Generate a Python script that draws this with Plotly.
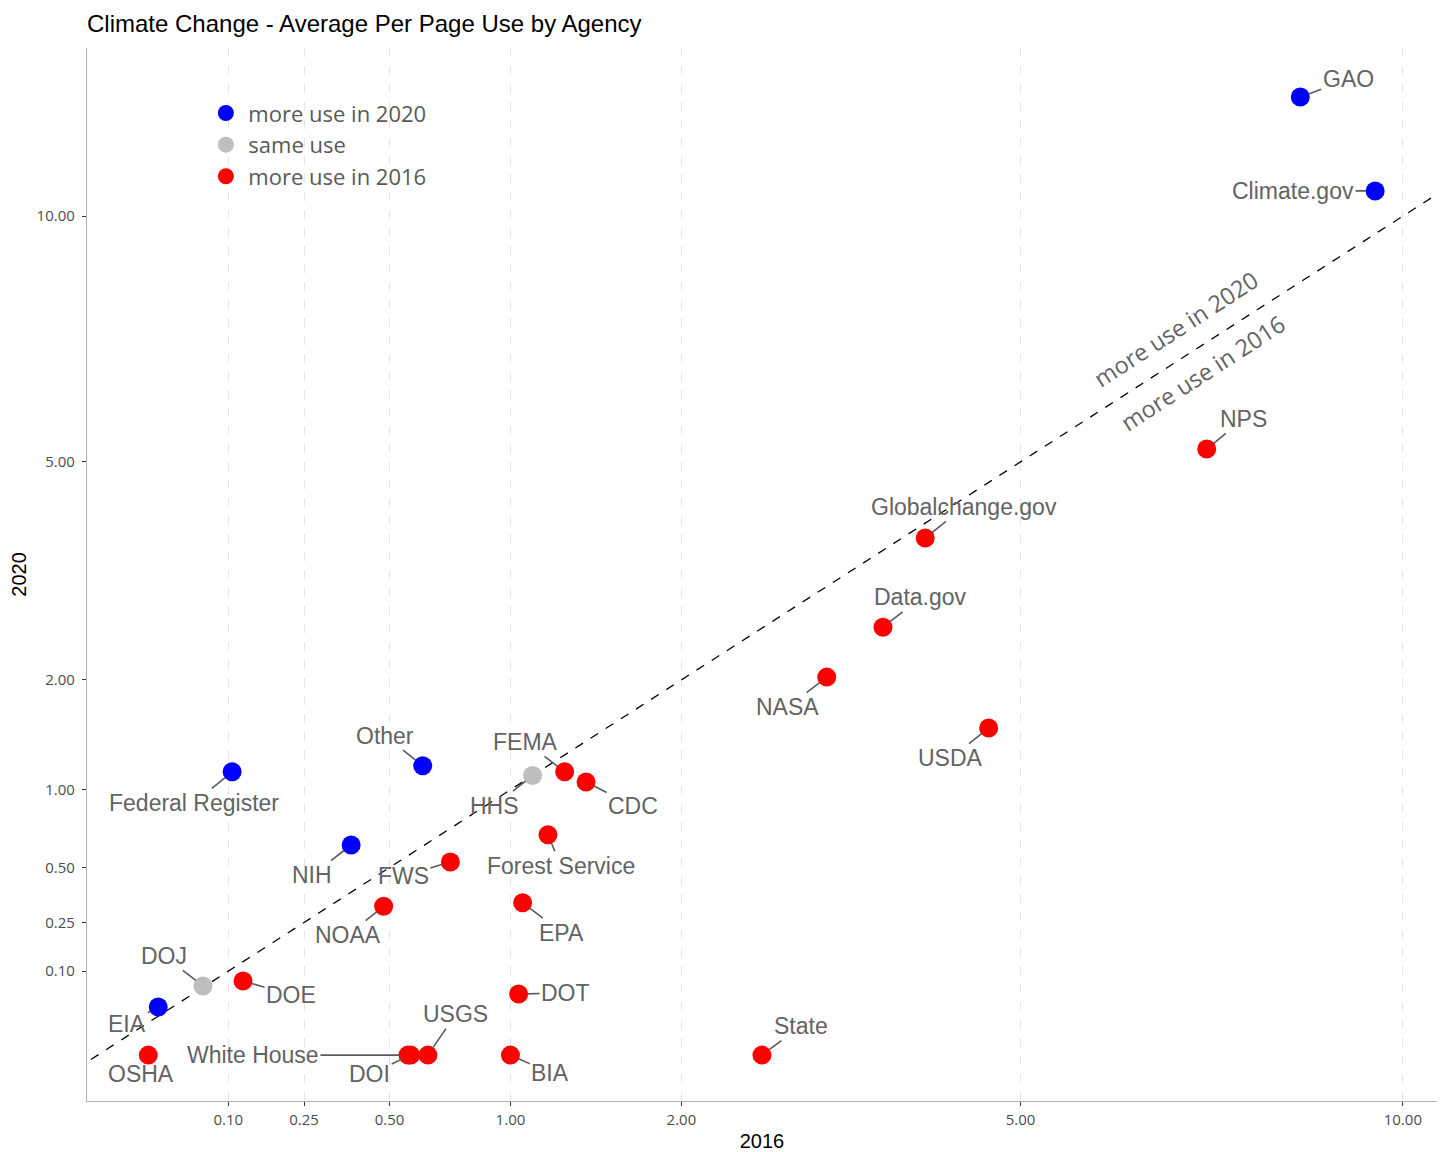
import numpy as np
import plotly.graph_objects as go

# ---------------- data ----------------
agencies = ["GAO", "Climate.gov", "NPS", "Globalchange.gov", "Data.gov", "NASA", "USDA",
            "FEMA", "CDC", "HHS", "Other", "Federal Register", "NIH", "Forest Service",
            "FWS", "NOAA", "EPA", "DOJ", "DOE", "EIA", "OSHA", "DOT", "White House",
            "DOI", "USGS", "BIA", "State"]
use_2016 = [8.49, 9.58, 7.22, 4.02, 3.62, 3.12, 4.66,
            1.28, 1.40, 1.11, 0.62, 0.106, 0.377, 1.19,
            0.73, 0.48, 1.06, 0.065, 0.124, 0.0215, 0.015, 1.04, 0.565,
            0.575, 0.64, 1.00, 2.59]
use_2020 = [13.04, 10.61, 5.22, 3.80, 2.60, 2.03, 1.52,
            1.14, 1.06, 1.11, 1.19, 1.14, 0.627, 0.69,
            0.53, 0.315, 0.33, 0.068, 0.078, 0.033, 0.0, 0.053, 0.0,
            0.0, 0.0, 0.0, 0.0]
change = ["more use in 2020", "more use in 2020", "more use in 2016", "more use in 2016",
          "more use in 2016", "more use in 2016", "more use in 2016", "more use in 2016",
          "more use in 2016", "same use", "more use in 2020", "more use in 2020",
          "more use in 2020", "more use in 2016", "more use in 2016", "more use in 2016",
          "more use in 2016", "same use", "more use in 2016", "more use in 2020",
          "more use in 2016", "more use in 2016", "more use in 2016", "more use in 2016",
          "more use in 2016", "more use in 2016", "more use in 2016"]
categories = ["more use in 2020", "same use", "more use in 2016"]
x_ticks = [0.10, 0.25, 0.50, 1.00, 2.00, 5.00, 10.00]
y_ticks = [0.10, 0.25, 0.50, 1.00, 2.00, 5.00, 10.00]
tick_labels = ["0.10", "0.25", "0.50", "1.00", "2.00", "5.00", "10.00"]

# ---------------- styling ----------------
colors = {"more use in 2020": "#0000FF", "same use": "#BEBEBE", "more use in 2016": "#FF0000"}
# label offsets (pixels, text centre relative to the point)
label_offsets = {
    "GAO": (48, -18), "Climate.gov": (-82, 0), "NPS": (37, -30),
    "Globalchange.gov": (39, -31), "Data.gov": (38, -30), "NASA": (-39, 30),
    "USDA": (-38, 30), "FEMA": (-39, -30), "HHS": (-38, 30), "CDC": (47, 24),
    "Other": (-38, -30), "Federal Register": (-38, 31), "NIH": (-39, 30),
    "Forest Service": (13, 31), "FWS": (-47, 14), "NOAA": (-36, 29),
    "EPA": (39, 30), "DOJ": (-39, -30), "DOE": (48, 14), "EIA": (-31, 17),
    "OSHA": (-7, 19), "DOT": (47, -1), "White House": (-155, 0),
    "DOI": (-41, 19), "USGS": (28, -41), "BIA": (40, 18), "State": (39, -29),
}

LABEL_FONT = "Liberation Sans, Arial, sans-serif"
LEGEND_FONT = "Open Sans, sans-serif"
TEXT_GREY = "#636363"

W, H = 1437, 1144   # page body adds an 8px margin
ML, MR, MT, MB = 79, 8, 40, 51

sx = np.sqrt(np.array(use_2016))
sy = np.sqrt(np.array(use_2020))

fig = go.Figure()

# identity line (sqrt scale -> straight line)
lo, hi = -0.2, 3.5
fig.add_trace(go.Scatter(x=[lo, hi], y=[lo, hi], mode="lines",
                         line=dict(color="black", width=1.3, dash="dash"),
                         showlegend=False, hoverinfo="skip"))

for cat in categories:
    idx = [i for i, c in enumerate(change) if c == cat]
    fig.add_trace(go.Scatter(
        x=sx[idx], y=sy[idx], mode="markers", name=cat,
        text=[agencies[i] for i in idx],
        marker=dict(color=colors[cat], size=19, line=dict(width=0)),
    ))

annotations = []
for i, a in enumerate(agencies):
    ax, ay = label_offsets[a]
    annotations.append(dict(
        x=sx[i], y=sy[i], xref="x", yref="y", text=a, showarrow=True,
        ax=ax, ay=ay, arrowhead=0, arrowwidth=1.6, arrowcolor="#5a5a5a",
        standoff=9, font=dict(family=LABEL_FONT, size=23, color=TEXT_GREY),
    ))

# diagonal region labels
t = np.sqrt(7.0)
annotations.append(dict(x=t, y=t, xref="x", yref="y", text="more use in 2020",
                        showarrow=False, textangle=-33, xshift=-14, yshift=24,
                        font=dict(family=LEGEND_FONT, size=23.5, color=TEXT_GREY)))
annotations.append(dict(x=t, y=t, xref="x", yref="y", text="more use in 2016",
                        showarrow=False, textangle=-33, xshift=13, yshift=-20,
                        font=dict(family=LEGEND_FONT, size=23.5, color=TEXT_GREY)))

fig.update_layout(
    width=W, height=H,
    margin=dict(l=ML, r=MR, t=MT, b=MB, autoexpand=False),
    paper_bgcolor="white", plot_bgcolor="white",
    title=dict(text="Climate Change - Average Per Page Use by Agency",
               x=ML / W, xanchor="left", xref="container",
               y=1 - 16 / H, yanchor="middle",
               font=dict(family=LABEL_FONT, size=24, color="black")),
    annotations=annotations,
    legend=dict(x=0.0862, y=0.958, xanchor="left", yanchor="top",
                bgcolor="rgba(0,0,0,0)", itemwidth=35,
                font=dict(family=LEGEND_FONT, size=22, color="#595959")),
    showlegend=True,
)

fig.update_xaxes(
    range=[-0.026, 3.245], tickvals=np.sqrt(x_ticks), ticktext=tick_labels,
    automargin=False,
    showgrid=True, gridcolor="#e6e6e6", griddash="dash", gridwidth=1,
    zeroline=False, showline=True, linecolor="#b3b3b3", linewidth=1.3,
    ticks="outside", ticklen=4, tickcolor="#333333", tickwidth=1.3,
    ticklabelstandoff=1,
    tickfont=dict(family=LEGEND_FONT, size=15, color="#4d4d4d"),
    title=dict(text="2016", font=dict(family=LABEL_FONT, size=20, color="black")),
)
fig.update_yaxes(
    range=[-0.173, 3.796], tickvals=np.sqrt(y_ticks), ticktext=tick_labels,
    automargin=False,
    showgrid=False, zeroline=False, showline=True, linecolor="#b3b3b3", linewidth=1.3,
    ticks="outside", ticklen=4, tickcolor="#333333", tickwidth=1.3,
    ticklabelstandoff=4,
    tickfont=dict(family=LEGEND_FONT, size=15, color="#4d4d4d"),
    title=dict(text="2020", font=dict(family=LABEL_FONT, size=20, color="black")),
)

fig.write_html("out.html")
